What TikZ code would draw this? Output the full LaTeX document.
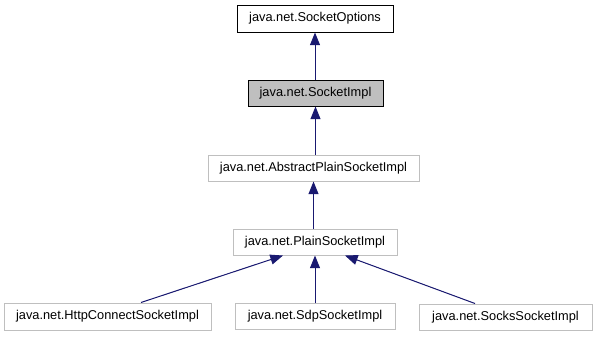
\documentclass[tikz,border=0pt]{standalone}
\usepackage{fontspec}
\setmainfont{Liberation Sans}
\usetikzlibrary{arrows.meta,calc}

\definecolor{edgeblue}{HTML}{191970}
\definecolor{lightframe}{HTML}{BFBFBF}
\definecolor{selfill}{HTML}{BFBFBF}

\tikzset{
  cls/.style 2 args={draw, line width=0.75pt, inner sep=0pt, fill=white,
    font=\fontsize{9.6pt}{11pt}\selectfont,
    minimum width=#1*0.75pt, minimum height=#2*0.75pt},
  plainframe/.style={draw=black},
  greyframe/.style={draw=lightframe},
  current/.style={draw=black, fill=selfill},
  inherit/.style={draw=edgeblue, line width=0.75pt,
    -{Triangle[length=9.5pt,width=7.5pt]}, fill=edgeblue},
}

\begin{document}
\begin{tikzpicture}[x=0.75pt, y=-0.75pt]
  \useasboundingbox (0,0) rectangle (596,336);

  % class boxes
  \node[cls={156}{27}, plainframe] (opts)  at (315,18.5)   {java.net.SocketOptions};
  \node[cls={135}{26}, current]    (impl)  at (315.5,93)   {java.net.SocketImpl};
  \node[cls={211}{26}, greyframe]  (abs)   at (313.5,168)  {java.net.AbstractPlainSocketImpl};
  \node[cls={164}{26}, greyframe]  (plain) at (315,242)    {java.net.PlainSocketImpl};
  \node[cls={207}{27}, greyframe]  (http)  at (107.5,316.5) {java.net.HttpConnectSocketImpl};
  \node[cls={160}{26}, greyframe]  (sdp)   at (315,316.5)  {java.net.SdpSocketImpl};
  \node[cls={173}{26}, greyframe]  (socks) at (505.5,317)  {java.net.SocksSocketImpl};

  % inheritance arrows, child to parent
  \draw[inherit] (impl.north -| opts.south) -- (opts.south);
  \draw[inherit] (abs.north -| impl.south) -- (impl.south);
  \draw[inherit] (plain.north -| abs.south) -- (abs.south);
  \draw[inherit] ($(http.north)+(33.5,0)$) -- ($(plain.south)+(-32,0)$);
  \draw[inherit] (sdp.north) -- (sdp.north |- plain.south);
  \draw[inherit] ($(socks.north)+(-30.5,0)$) -- ($(plain.south)+(30,0)$);
\end{tikzpicture}
\end{document}
